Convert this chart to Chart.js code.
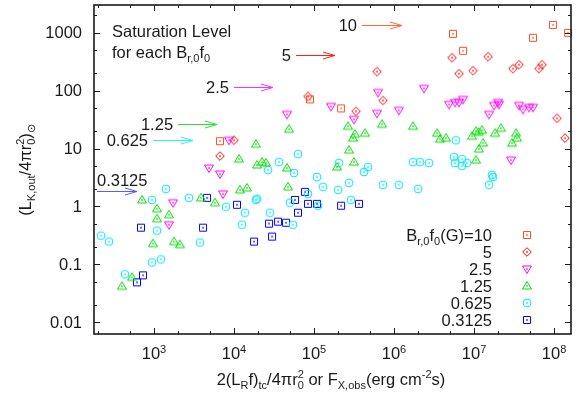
<!DOCTYPE html>
<html>
<head>
<meta charset="utf-8">
<script src="https://cdn.jsdelivr.net/npm/chart.js@4.4.1/dist/chart.umd.min.js"></script>
<style>
  html, body { margin: 0; padding: 0; background: #fff; }
  #wrap { width: 579px; height: 394px; position: relative; }
</style>
</head>
<body>
<div id="wrap"><canvas id="c"></canvas></div>
<script>
// values: x = 2(L_R f)_tc/4πr0² or F_X,obs, y = (L_K,out/4πr0²)⊙
const SERIES_NAMES = ['10', '5', '2.5', '1.25', '0.625', '0.3125'];

const B10_X = [6680, 89100, 218000, 5460000, 7290000, 54600000, 97200000, 150000000];
const B10_Y = [13.4, 70.4, 49.3, 953, 487, 815, 1360, 992];

const B5_X = [6680, 10000, 84100, 335000, 613000, 729000, 5310000, 6490000, 9720000, 15000000,
  30700000, 36500000, 64900000, 70800000, 109000000, 137000000];
const B5_Y = [7.41, 13.9, 79.2, 43.8, 213, 67.6, 370, 196, 221, 385, 239, 280, 239, 280, 33.2, 15.1];

const B2_5_X = [1540, 1730, 4870, 6680, 7290, 8660, 45960, 163000, 316000, 613000, 631000, 1150000,
  2370000, 4870000, 5790000, 6490000, 7290000, 15400000, 17800000, 20000000, 20500000, 29000000,
  36500000, 41000000, 48700000, 54600000];
const B2_5_Y = [0.485, 1.16, 4.61, 3.64, 1.65, 13.9, 38.9, 53.4, 31.9, 40.5, 92.8, 45.6, 109, 57.8,
  62.5, 62.5, 70.4, 38.9, 55.5, 62.5, 57.8, 6.32, 55.5, 47.4, 51.3, 51.3];

const B1_25_X = [398, 531, 708, 972, 1090, 1090, 1540, 1780, 2110, 3870, 5790, 11550, 11900, 14500,
  18800, 19400, 22400, 25100, 45960, 47300, 48700, 194000, 266000, 274000, 307000, 316000, 325000,
  434000, 708000, 1730000, 3450000, 3760000, 4470000, 9440000, 10600000, 11500000, 12600000,
  13000000, 11500000, 10600000, 18300000, 21700000, 33500000, 34500000, 29900000];
const B1_25_Y = [0.042, 0.0598, 1.30, 0.229, 0.913, 0.615, 0.721, 0.248, 0.220, 1.41, 1.16, 6.58,
  1.93, 2.09, 11.9, 5.19, 5.84, 5.62, 4.61, 2.18, 21.5, 4.80, 24.2, 9.39, 15.1, 5.84, 17.7, 18.4,
  26.2, 24.2, 18.4, 14.5, 15.1, 16.3, 19.9, 19.1, 20.7, 12.4, 9.77, 6.32, 18.4, 22.4, 18.4, 15.1, 12.4];

const B0_625_X = [218, 274, 434, 944, 1220, 944, 1410, 1090, 2740, 3760, 7940, 12600, 13700, 18800,
  19400, 28200, 26600, 36500, 50100, 54600, 56200, 63100, 84100, 109000, 112000, 130000, 200000,
  205000, 274000, 290000, 422000, 473000, 729000, 1150000, 1730000, 2000000, 2110000, 2740000,
  5620000, 5790000, 5960000, 7080000, 7080000, 8180000, 15400000, 16800000, 17300000];
const B0_625_Y = [0.314, 0.248, 0.0674, 0.108, 0.122, 1.30, 2.01, 0.383, 1.41, 0.238, 0.99, 0.485,
  0.780, 1.30, 1.36, 0.780, 4.26, 5.84, 1.16, 0.485, 3.79, 8.02, 1.65, 3.23, 1.03, 2.18, 1.93, 5.62,
  2.55, 1.30, 3.94, 4.80, 2.36, 2.36, 5.84, 2.01, 5.84, 5.62, 7.12, 5.62, 13.9, 6.58, 4.99, 5.62,
  2.36, 3.50, 3.23];

const B0_3125_X = [613, 729, 688, 4100, 4600, 10900, 17800, 27400, 29900, 35500, 44700, 57900, 63100,
  77200, 84100, 109000, 218000, 365000];
const B0_3125_Y = [0.0491, 0.0648, 0.431, 0.431, 1.41, 1.07, 0.248, 0.505, 0.302, 0.547, 0.525,
  1.30, 0.780, 1.79, 1.11, 1.11, 1.03, 1.11];

// saturation level of each B_r,0 f_0 (arrow heights)
const SAT_LEVELS = [1380, 414, 117, 26.9, 13.9, 1.87];

const X_TICKS = [1e3, 1e4, 1e5, 1e6, 1e7, 1e8];
const X_TICK_EXP = ['3', '4', '5', '6', '7', '8'];
const Y_TICKS = [0.01, 0.1, 1, 10, 100, 1000];
const Y_TICK_LABELS = ['0.01', '0.1', '1', '10', '100', '1000'];

const COLORS = ['#ff5020', '#ff0000', '#ff00ff', '#00e000', '#00e8ff', '#0000ff'];
const ARROW_COLORS = ['#ff6a3a', '#ff2020', '#ff30ff', '#30e030', '#30f0ff', '#5a5aff'];
const SHAPES = ['square', 'diamond', 'down', 'up', 'circle', 'square'];
const XS = [B10_X, B5_X, B2_5_X, B1_25_X, B0_625_X, B0_3125_X];
const YS = [B10_Y, B5_Y, B2_5_Y, B1_25_Y, B0_625_Y, B0_3125_Y];

const FONT = '"Liberation Sans", Arial, Helvetica, sans-serif';
const FS = 16.5;

// gnuplot-ish open markers with a centre dot
function marker(shape, color) {
  const s = 14, m = 7;
  const c = document.createElement('canvas');
  c.width = s; c.height = s;
  const g = c.getContext('2d');
  g.strokeStyle = color; g.fillStyle = color; g.lineWidth = 1;
  g.beginPath();
  if (shape === 'square') g.rect(m - 3.5, m - 3.5, 7, 7);
  else if (shape === 'diamond') { g.moveTo(m, m - 4.3); g.lineTo(m + 4.3, m); g.lineTo(m, m + 4.3); g.lineTo(m - 4.3, m); g.closePath(); }
  else if (shape === 'up') { g.moveTo(m, m - 4.5); g.lineTo(m + 4.5, m + 3); g.lineTo(m - 4.5, m + 3); g.closePath(); }
  else if (shape === 'down') { g.moveTo(m, m + 4.5); g.lineTo(m + 4.5, m - 3); g.lineTo(m - 4.5, m - 3); g.closePath(); }
  else g.arc(m, m, 3.9, 0, Math.PI * 2);
  g.stroke();
  g.fillRect(m - 0.75, m - 0.75, 1.5, 1.5);
  return c;
}
const MARKERS = SHAPES.map((s, i) => marker(s, COLORS[i]));

// rich text: {t} normal, {b} subscript, {p} superscript, {b,p} stacked
function drawRich(ctx, segs, x, y, align, size) {
  const big = size + 'px ' + FONT;
  const small = Math.round(size * 0.69) + 'px ' + FONT;
  const widths = segs.map((s) => {
    if (s.t !== undefined) { ctx.font = big; return ctx.measureText(s.t).width; }
    ctx.font = small;
    return Math.max(s.b ? ctx.measureText(s.b).width : 0, s.p ? ctx.measureText(s.p).width : 0);
  });
  const w = widths.reduce((a, b) => a + b, 0);
  let cx = align === 'center' ? x - w / 2 : align === 'right' ? x - w : x;
  ctx.textAlign = 'left';
  ctx.textBaseline = 'alphabetic';
  segs.forEach((s, i) => {
    if (s.t !== undefined) { ctx.font = big; ctx.fillText(s.t, cx, y); }
    else {
      ctx.font = small;
      if (s.b) ctx.fillText(s.b, cx, y + size * 0.25);
      if (s.p) ctx.fillText(s.p, cx, y - size * (s.pOff || 0.4));
    }
    cx += widths[i];
  });
}

const frame = {
  id: 'frame',
  afterDatasetsDraw(chart, args, opts) {
    const { ctx, chartArea: a } = chart;
    const sx = chart.scales.x, sy = chart.scales.y;
    ctx.save();
    ctx.fillStyle = '#1a1a1a';
    ctx.strokeStyle = '#1a1a1a';

    // ticks, inward, all four sides
    ctx.lineWidth = 1;
    const tick = (v, len, axis) => {
      if (axis === 'x') {
        const px = Math.round(sx.getPixelForValue(v)) + 0.5;
        if (px < a.left + 1 || px > a.right - 1) return;
        ctx.beginPath();
        ctx.moveTo(px, a.bottom); ctx.lineTo(px, a.bottom - len);
        ctx.moveTo(px, a.top); ctx.lineTo(px, a.top + len);
        ctx.stroke();
      } else {
        const py = Math.round(sy.getPixelForValue(v)) + 0.5;
        if (py < a.top + 1 || py > a.bottom - 1) return;
        ctx.beginPath();
        ctx.moveTo(a.left, py); ctx.lineTo(a.left + len, py);
        ctx.moveTo(a.right, py); ctx.lineTo(a.right - len, py);
        ctx.stroke();
      }
    };
    for (let e = 2; e <= 8; e++) {
      const d = Math.pow(10, e);
      tick(d, 6, 'x'); tick(2 * d, 3, 'x'); tick(5 * d, 3, 'x');
    }
    for (let e = -3; e <= 3; e++) {
      const d = Math.pow(10, e);
      tick(d, 6, 'y'); tick(2 * d, 3, 'y'); tick(5 * d, 3, 'y');
    }

    // border
    ctx.lineWidth = 1.6;
    ctx.strokeRect(a.left, a.top, a.right - a.left, a.bottom - a.top);

    // tick labels
    X_TICKS.forEach((v, i) => {
      drawRich(ctx, [{ t: '10' }, { p: X_TICK_EXP[i], pOff: 0.34 }], sx.getPixelForValue(v), a.bottom + 25, 'center', FS);
    });
    ctx.font = FS + 'px ' + FONT;
    ctx.textAlign = 'right';
    ctx.textBaseline = 'alphabetic';
    Y_TICKS.forEach((v, i) => ctx.fillText(Y_TICK_LABELS[i], a.left - 12, sy.getPixelForValue(v) + 5.8));

    // axis titles
    drawRich(ctx, [{ t: '2(L' }, { b: 'R' }, { t: 'f)' }, { b: 'tc' }, { t: '/4πr' }, { b: '0', p: '2' },
      { t: ' or F' }, { b: 'X,obs' }, { t: '(erg cm' }, { p: '-2' }, { t: 's)' }], 331, 385, 'center', FS);
    ctx.save();
    ctx.translate(31, 170);
    ctx.rotate(-Math.PI / 2);
    drawRich(ctx, [{ t: '(L' }, { b: 'K,out' }, { t: '/4πr' }, { b: '0', p: '2' }, { t: ')' }, { b: '⊙' }], 0, 0, 'center', FS);
    ctx.restore();

    // saturation note
    drawRich(ctx, [{ t: 'Saturation Level' }], 112, 37, 'left', FS);
    drawRich(ctx, [{ t: 'for each B' }, { b: 'r,0' }, { t: 'f' }, { b: '0' }], 112, 58, 'left', FS);

    // saturation arrows
    opts.spans.forEach((sp, i) => {
      const y = Math.round(sy.getPixelForValue(SAT_LEVELS[i])) + 0.5;
      const x0 = sx.getPixelForValue(sp[0]), x1 = sx.getPixelForValue(sp[1]);
      ctx.strokeStyle = ARROW_COLORS[i];
      ctx.lineWidth = 1;
      ctx.beginPath();
      ctx.moveTo(x0, y); ctx.lineTo(x1, y);
      ctx.moveTo(x1 - 12, y - 3.5); ctx.lineTo(x1, y); ctx.lineTo(x1 - 12, y + 3.5);
      ctx.stroke();
      ctx.fillStyle = '#1a1a1a';
      if (i === SERIES_NAMES.length - 1) drawRich(ctx, [{ t: SERIES_NAMES[i] }], x0, y - 6, 'left', FS);
      else drawRich(ctx, [{ t: SERIES_NAMES[i] }], x0 - 5, y + 5.8, 'right', FS);
    });

    // legend
    SERIES_NAMES.forEach((n, i) => {
      const cy = 235 + i * 17;
      ctx.fillStyle = '#1a1a1a';
      const segs = i === 0 ? [{ t: 'B' }, { b: 'r,0' }, { t: 'f' }, { b: '0' }, { t: '(G)=' + n }] : [{ t: n }];
      drawRich(ctx, segs, 492, cy + 5.8, 'right', FS);
      ctx.drawImage(MARKERS[i], 527 - 7, cy - 7);
    });
    ctx.restore();
  },
};

new Chart(document.getElementById('c'), {
  type: 'scatter',
  data: {
    datasets: SERIES_NAMES.map((n, i) => ({
      label: n,
      data: XS[i].map((x, j) => ({ x, y: YS[i][j] })),
      pointStyle: MARKERS[i],
      pointRadius: 4,
      clip: false,
    })),
  },
  options: {
    responsive: true,
    maintainAspectRatio: false,
    animation: false,
    events: [],
    layout: { padding: { left: 94, right: 8, top: 3, bottom: 60 } },
    scales: {
      x: { type: 'logarithmic', min: 178, max: 1.63e8, display: false },
      y: { type: 'logarithmic', min: 0.0063, max: 3000, display: false },
    },
    plugins: {
      legend: { display: false },
      tooltip: { enabled: false },
      frame: {
        spans: [[3.98e5, 1.26e6], [5.96e4, 1.83e5], [1e4, 3.07e4], [2000, 6130], [972, 3070], [194, 613]],
      },
    },
  },
  plugins: [frame],
});
</script>
</body>
</html>
